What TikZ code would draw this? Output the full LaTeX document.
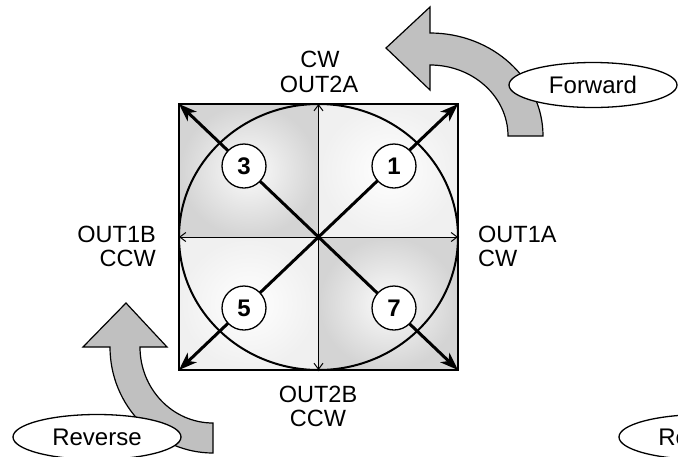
\documentclass[tikz,border=0pt]{standalone}
\usepackage{fontspec}
\setmainfont{Liberation Sans}
\usetikzlibrary{arrows.meta,shapes.geometric}
\definecolor{arrowgray}{RGB}{192,192,192}
\begin{document}
\begin{tikzpicture}[x=1pt,y=-1pt,
  lbl/.style={font=\fontsize{23.5}{25}\selectfont, inner sep=0pt},
  numcirc/.style={circle, draw, fill=white, line width=1.3pt, minimum size=44pt, inner sep=0pt, font=\fontsize{24}{26}\selectfont\bfseries},
  tagell/.style={ellipse, draw, fill=white, line width=1.3pt, minimum width=168pt, minimum height=45pt, inner sep=0pt, font=\fontsize{24}{26}\selectfont},
  blockarrow/.style={fill=arrowgray, draw=black, line width=1.2pt, line join=miter},
  axisline/.style={line width=1pt, {Straight Barb[length=6pt,width=9pt]}-{Straight Barb[length=6pt,width=9pt]}},
  diag/.style={line width=3pt, -{Stealth[length=18pt,width=13pt,inset=5pt]}},
  darkq/.style={inner color=gray!3, outer color=gray!34},
  lightq/.style={inner color=white, outer color=gray!12},
]
\useasboundingbox (0,0) rectangle (678,456);
\clip (0,0) rectangle (678,456);

% square geometry
\coordinate (TL) at (179,104);
\coordinate (TR) at (458,104);
\coordinate (BL) at (179,370);
\coordinate (BR) at (458,370);
\coordinate (C)  at (318.5,237);
\coordinate (T)  at (318.5,104);
\coordinate (B)  at (318.5,370);
\coordinate (L)  at (179,237);
\coordinate (R)  at (458,237);

% shaded quadrants
\shade[darkq] (TL) rectangle (C);
\shade[lightq] (T) rectangle (R);
\shade[lightq] (L) rectangle (B);
\shade[darkq] (C) rectangle (BR);
\draw[line width=1.6pt] (TL) rectangle (BR);

% inscribed ellipse
\draw[line width=2pt] (C) ellipse [x radius=139.5, y radius=133];

% axes
\draw[axisline] (T) -- (B);
\draw[axisline] (L) -- (R);

% diagonals
\draw[diag] (C) -- (TL);
\draw[diag] (C) -- (TR);
\draw[diag] (C) -- (BL);
\draw[diag] (C) -- (BR);

\node[numcirc] (n3) at (244,166) {3};
\node[numcirc] (n1) at (394,166) {1};
\node[numcirc] (n5) at (244,308) {5};
\node[numcirc] (n7) at (394,308) {7};

% labels
\node[lbl, anchor=base] (cwtop) at (320,67) {CW};
\node[lbl, anchor=base] (out2a) at (319,92) {OUT2A};
\node[lbl, anchor=base east] (out1b) at (156,242) {OUT1B};
\node[lbl, anchor=base east] (ccwleft) at (156,266) {CCW};
\node[lbl, anchor=base west] (out1a) at (478,242) {OUT1A};
\node[lbl, anchor=base west] (cwright) at (478,266) {CW};
\node[lbl, anchor=base] (out2b) at (318,402) {OUT2B};
\node[lbl, anchor=base] (ccwbot) at (318,426) {CCW};

% forward block arrow
\draw[blockarrow] (508,136) -- (543,136)
  .. controls (543,79.1) and (492.4,33) .. (430,33)
  -- (430,7) -- (386,48) -- (430,90) -- (430,65)
  .. controls (473.1,65) and (508,96.8) .. (508,136) -- cycle;
\node[tagell] (fwd) at (593,85) {Forward};

% reverse block arrow
\draw[blockarrow] (110,347) -- (83,347) -- (126,303) -- (167,347) -- (140,347)
  .. controls (140,389) and (172.7,423) .. (213,423)
  -- (213,453)
  .. controls (156.1,453) and (110,405.5) .. (110,347) -- cycle;
\node[tagell] (rev) at (97,437) {Reverse};
\node[tagell] (rev2) at (703,437) {Reverse};
\end{tikzpicture}
\end{document}
